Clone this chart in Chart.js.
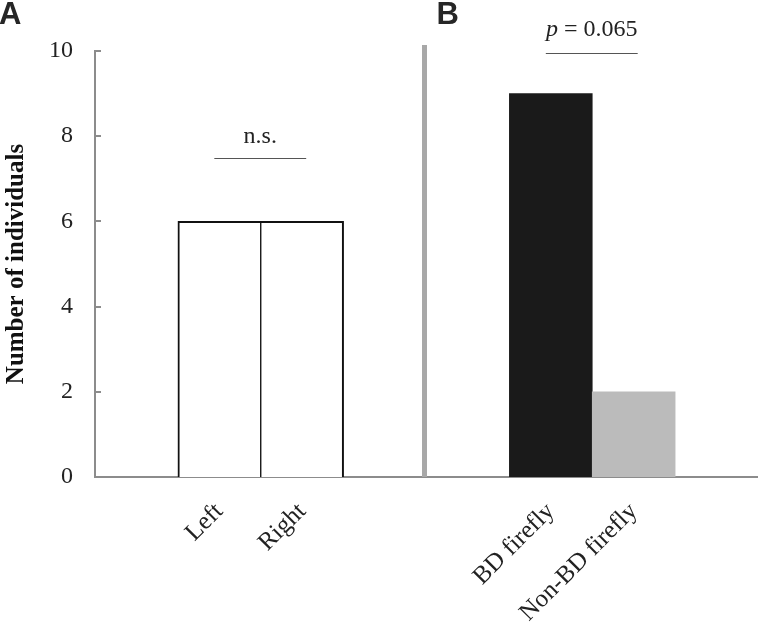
<!DOCTYPE html>
<html>
<head>
  <meta charset="utf-8">
  <title>Number of individuals</title>
  <script src="https://cdn.jsdelivr.net/npm/chart.js@4.4.1/dist/chart.umd.min.js"></script>
  <style>
    html, body { margin: 0; padding: 0; background: #fff; }
    #wrap { position: relative; width: 758px; height: 624px; }
  </style>
</head>
<body>
  <div id="wrap">
    <canvas id="barChart" width="758" height="624"></canvas>
  </div>

  <script>
    // slots along the x axis; empty ones are spacers between / around the panels
    const categories = ['', 'Left', 'Right', '', '', 'BD firefly', 'Non-BD firefly', ''];
    const counts     = [null, 6, 6, null, null, 9, 2, null];
    const fills      = ['#fff', '#fff', '#fff', '#fff', '#fff', '#1a1a1a', '#bbbbbb', '#fff'];
    const yTicks     = [0, 2, 4, 6, 8, 10];

    // significance brackets: [from slot, to slot, height in counts, label]
    const brackets = [
      [1, 2, 7.5, 'n.s.'],
      [5, 6, 9.95, 'p = 0.065']
    ];
    const panelLetters = [['A', 0], ['B', 4]];

    const serif = "'Liberation Serif', 'Times New Roman', serif";

    // outlined bars (Left / Right) share one edge, so each draws half of it
    function outline(ctx) {
      const i = ctx.dataIndex;
      if (i === 1) return { top: 2, left: 2, right: 1, bottom: 0 };
      if (i === 2) return { top: 2, left: 1, right: 2, bottom: 0 };
      return 0;
    }

    const extras = {
      id: 'extras',
      afterDraw(chart) {
        const ctx = chart.ctx;
        const x = chart.scales.x;
        const y = chart.scales.y;
        const area = chart.chartArea;
        const divX = (x.getPixelForValue(3) + x.getPixelForValue(4)) / 2 - 2;
        ctx.save();

        // small inward tick marks on the y axis
        ctx.strokeStyle = '#8c8c8c';
        ctx.lineWidth = 2;
        yTicks.forEach(v => {
          const py = Math.round(y.getPixelForValue(v));
          ctx.beginPath();
          ctx.moveTo(area.left, py);
          ctx.lineTo(area.left + 6, py);
          ctx.stroke();
        });

        // panel divider
        ctx.strokeStyle = '#a8a8a8';
        ctx.lineWidth = 5;
        ctx.beginPath();
        ctx.moveTo(divX, area.top - 6);
        ctx.lineTo(divX, area.bottom);
        ctx.stroke();

        // brackets and their labels
        brackets.forEach(([a, b, v, label]) => {
          const x1 = x.getPixelForValue(a) - 5;
          const x2 = x.getPixelForValue(b) + 4;
          const py = Math.round(y.getPixelForValue(v)) + 0.5;
          ctx.strokeStyle = '#555';
          ctx.lineWidth = 1.2;
          ctx.beginPath();
          ctx.moveTo(x1, py);
          ctx.lineTo(x2, py);
          ctx.stroke();

          ctx.fillStyle = '#222';
          ctx.textBaseline = 'alphabetic';
          const cx = (x1 + x2) / 2;
          if (label.startsWith('p ')) {
            const it = 'italic 24px ' + serif;
            const rest = label.slice(1);
            ctx.font = it;
            const w1 = ctx.measureText('p').width;
            ctx.font = '24px ' + serif;
            const w2 = ctx.measureText(rest).width;
            const start = cx - (w1 + w2) / 2;
            ctx.font = it;
            ctx.textAlign = 'left';
            ctx.fillText('p', start, py - 18);
            ctx.font = '24px ' + serif;
            ctx.fillText(rest, start + w1, py - 18);
          } else {
            ctx.font = '24px ' + serif;
            ctx.textAlign = 'center';
            ctx.fillText(label, cx, py - 16);
          }
        });

        // panel letters
        ctx.fillStyle = '#262626';
        ctx.font = "bold 31px 'Liberation Sans', Arial, sans-serif";
        ctx.textAlign = 'left';
        ctx.textBaseline = 'alphabetic';
        panelLetters.forEach(([t, slot]) => {
          const px = slot === 0 ? -1 : divX + 12;
          ctx.fillText(t, px, 24);
        });
        ctx.restore();
      }
    };

    const config = {
      type: 'bar',
      data: {
        labels: categories,
        datasets: [{
          data: counts,
          backgroundColor: fills,
          borderColor: '#111',
          borderWidth: outline,
          borderSkipped: false,
          barPercentage: 1,
          categoryPercentage: 1
        }]
      },
      options: {
        responsive: false,
        animation: false,
        layout: { padding: { top: 51, right: 0, left: 2, bottom: 0 } },
        plugins: {
          legend: { display: false },
          tooltip: { enabled: false }
        },
        scales: {
          x: {
            grid: { display: false, drawTicks: false },
            border: { display: true, color: '#8c8c8c', width: 2 },
            ticks: {
              autoSkip: false,
              maxRotation: 45,
              minRotation: 45,
              padding: 20,
              color: '#222',
              font: { family: serif, size: 25 }
            },
            afterFit(scale) { scale.height = 147; }
          },
          y: {
            min: 0,
            max: 10,
            grid: { display: false, drawTicks: false },
            border: { display: true, color: '#8c8c8c', width: 2 },
            ticks: {
              stepSize: 2,
              padding: 22,
              color: '#222',
              font: { family: serif, size: 24 }
            },
            title: {
              display: true,
              text: 'Number of individuals',
              color: '#111',
              padding: { top: 0, bottom: 0 },
              font: { family: serif, size: 25, weight: 'bold' }
            },
            afterFit(scale) { scale.width = 93; }
          }
        }
      },
      plugins: [extras]
    };

    new Chart(document.getElementById('barChart'), config);
  </script>
</body>
</html>
